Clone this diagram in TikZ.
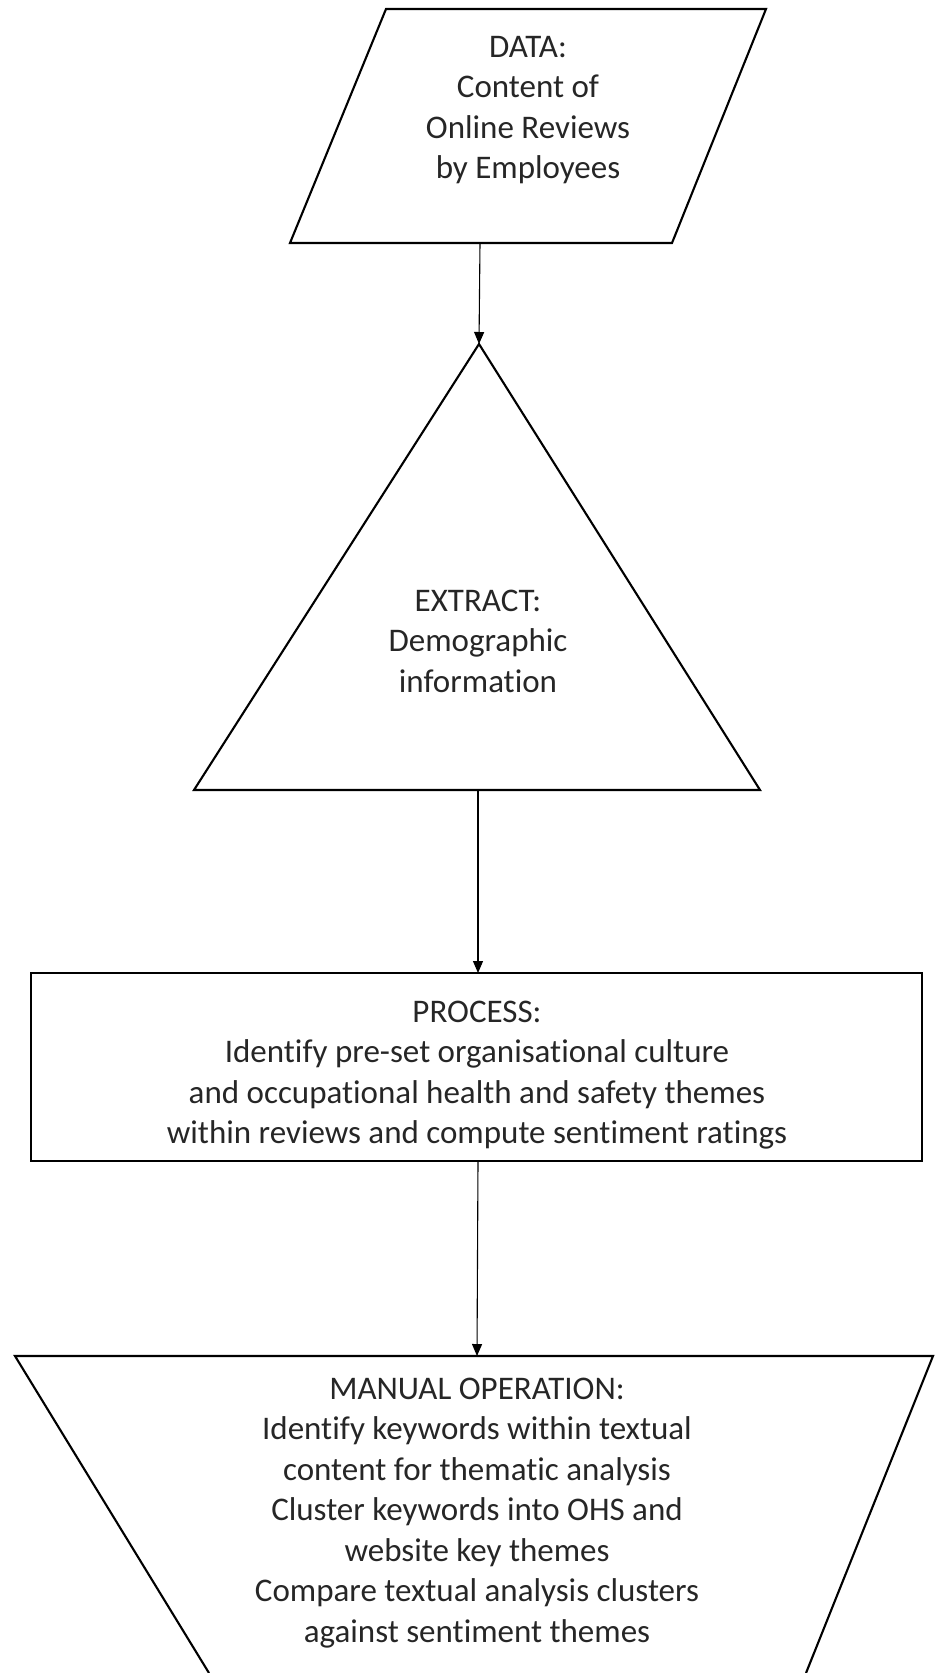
\documentclass[tikz,border=0pt]{standalone}
\usepackage{fontspec}
\setmainfont[Ligatures=NoCommon]{Carlito}
\usetikzlibrary{arrows.meta}
\tikzset{
  shapeline/.style={draw=black, line width=2.1pt, line join=miter},
  conn/.style={draw=black, line width=1.1pt, -{Triangle[length=12pt,width=10pt]}},
  txt/.style={align=center, text=black!85, font=\fontsize{33}{40.5}\selectfont, inner sep=0pt}
}
\begin{document}
\begin{tikzpicture}[x=1pt,y=-1pt]
\useasboundingbox (0,0) rectangle (935,1673);
% DATA parallelogram
\draw[shapeline] (386,9) -- (766,9) -- (672,243) -- (290,243) -- cycle;
\coordinate (dataB) at (480,243);
\node[txt] (data) at (528,110) {DATA:\\Content of\\Online Reviews\\by Employees};
% EXTRACT triangle
\draw[shapeline] (479,344) -- (760,790) -- (194,790) -- cycle;
\coordinate (extT) at (479,344);
\coordinate (extB) at (478,790);
\node[txt] (extract) at (478,641) {EXTRACT:\\Demographic\\information};
% PROCESS rectangle
\draw[shapeline] (31,973) rectangle (922,1161);
\coordinate (procT) at (478,973);
\coordinate (procB) at (478,1161);
\node[txt] (process) at (477,1075) {PROCESS:\\Identify pre-set organisational culture\\and occupational health and safety themes\\within reviews and compute sentiment ratings};
% MANUAL OPERATION trapezoid
\draw[shapeline] (209,1673) -- (15,1356) -- (933,1356) -- (806,1673);
\coordinate (manT) at (477,1356);
\node[txt] (manual) at (477,1513) {MANUAL OPERATION:\\Identify keywords within textual\\content for thematic analysis\\Cluster keywords into OHS and\\website key themes\\Compare textual analysis clusters\\against sentiment themes};
% connectors
\draw[conn] (dataB) -- (extT);
\draw[conn] (extB) -- (procT);
\draw[conn] (procB) -- (manT);
\end{tikzpicture}
\end{document}
